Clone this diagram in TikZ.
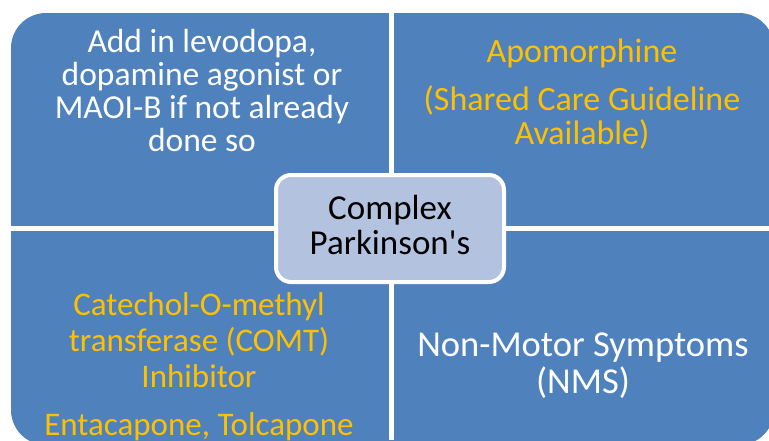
\documentclass[tikz,border=0pt]{standalone}
\usepackage{fontspec}
\setmainfont{Carlito}
\definecolor{quadblue}{HTML}{4F81BD}
\definecolor{centerfill}{HTML}{B3C2DE}
\definecolor{txtyellow}{HTML}{FFC000}
\tikzset{
  quadtext/.style={align=center, inner sep=0pt, anchor=center},
  qfont/.style 2 args={font=\fontsize{#1}{#2}\selectfont},
}
\begin{document}
\begin{tikzpicture}[x=1pt,y=-1pt]
\useasboundingbox (0,0) rectangle (769,440);
\clip (0,0) rectangle (769,440);
% background matrix
\fill[quadblue, rounded corners=35pt] (11,13) rectangle (774,445);
\fill[white] (389,0) rectangle (394,440);
\fill[white] (0,226) rectangle (769,231);
% quadrant texts
\node[quadtext, qfont={33.5}{33}, text=white] (tl) at (202,90)
  {Add in levodopa,\\dopamine agonist or\\MAOI-B if not already\\done so};
\node[quadtext, qfont={34}{34}, text=txtyellow] (tr) at (582,94)
  {Apomorphine\\[14pt](Shared Care Guideline\\Available)};
\node[quadtext, qfont={33}{36}, text=txtyellow] (bl) at (199,367)
  {Catechol-O-methyl\\transferase (COMT)\\Inhibitor\\[12pt]Entacapone, Tolcapone};
\node[quadtext, qfont={36.5}{37}, text=white] (br) at (583,366)
  {Non-Motor Symptoms\\(NMS)};
% center
\node[draw=white, line width=4pt, fill=centerfill, rounded corners=15pt,
      minimum width=228pt, minimum height=107pt] (c) at (390,228.5) {};
\node[quadtext, qfont={35}{35}, text=black] (ct) at ([yshift=3.5pt]c.center)
  {Complex\\Parkinson\textquotesingle s};
\end{tikzpicture}
\end{document}
